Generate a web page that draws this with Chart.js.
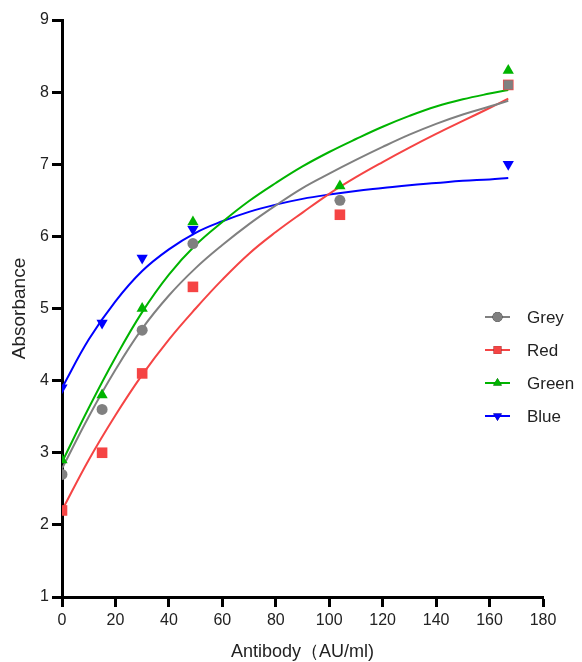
<!DOCTYPE html>
<html>
<head>
<meta charset="utf-8">
<script src="https://cdn.jsdelivr.net/npm/chart.js@4"></script>
<style>
  html, body { margin: 0; padding: 0; background: #fff; }
  #wrap { width: 582px; height: 662px; }
</style>
</head>
<body>
<div id="wrap"><canvas id="chart" width="582" height="662"></canvas></div>
<script>
// measured points
const doses = [0, 15, 30, 49, 104, 167];
const greyPts = [2.7, 3.6, 4.7, 5.9, 6.5, 8.1];
const redPts = [2.2, 3.0, 4.1, 5.3, 6.3, 8.1];
const greenPts = [2.9, 3.8, 5.0, 6.2, 6.7, 8.3];
const blueDoses = [0, 15, 30, 49, 167];
const bluePts = [3.9, 4.8, 5.7, 6.1, 7.0];

// fitted curves
const curveX = [0, 10, 20, 30, 40, 50, 60, 70, 80, 90, 100, 110, 120, 130, 140, 150, 160, 167];
const greyCurve = [2.78, 3.5, 4.15, 4.72, 5.18, 5.56, 5.88, 6.17, 6.43, 6.67, 6.87, 7.06, 7.24, 7.41, 7.56, 7.69, 7.8, 7.88];
const redCurve = [2.2, 2.9, 3.52, 4.08, 4.57, 5.0, 5.4, 5.76, 6.06, 6.33, 6.59, 6.82, 7.03, 7.23, 7.42, 7.6, 7.78, 7.91];
const greenCurve = [2.87, 3.62, 4.32, 4.95, 5.47, 5.88, 6.2, 6.49, 6.74, 6.97, 7.17, 7.35, 7.52, 7.67, 7.8, 7.9, 7.98, 8.03];
const blueCurve = [3.9, 4.57, 5.1, 5.52, 5.82, 6.05, 6.21, 6.34, 6.44, 6.52, 6.58, 6.63, 6.67, 6.71, 6.74, 6.77, 6.79, 6.81];

const xTicks = [0, 20, 40, 60, 80, 100, 120, 140, 160, 180];
const yTicks = [1, 2, 3, 4, 5, 6, 7, 8, 9];

const series = [
  { name: "Grey", color: "#808080", style: "circle", rotation: 0, radius: 5.5, xs: doses, pts: greyPts, curve: greyCurve },
  { name: "Red", color: "#f54444", style: "rect", rotation: 0, radius: 7.5, xs: doses, pts: redPts, curve: redCurve },
  { name: "Green", color: "#00b400", style: "triangle", rotation: 0, radius: 6.5, xs: doses, pts: greenPts, curve: greenCurve },
  { name: "Blue", color: "#0000ff", style: "triangle", rotation: 180, radius: 6.5, xs: blueDoses, pts: bluePts, curve: blueCurve },
];

const toXY = (xs, ys) => xs.map((x, i) => ({ x: x, y: ys[i] }));

const datasets = [];
series.forEach((s) => {
  const pointStyles = s.xs.map(() => s.style);
  const radii = s.xs.map(() => s.radius);
  if (s.name === "Grey") {
    // last grey marker sits on the red square and shows as a square
    pointStyles[pointStyles.length - 1] = "rect";
    radii[radii.length - 1] = 6.5;
  }
  datasets.push({
    label: s.name,
    data: toXY(s.xs, s.pts),
    showLine: false,
    pointStyle: pointStyles,
    rotation: s.rotation,
    pointRadius: radii,
    pointBackgroundColor: s.color,
    pointBorderColor: s.color,
    pointBorderWidth: 0,
  });
});
series.forEach((s) => {
  datasets.push({
    label: s.name + " fit",
    data: toXY(curveX, s.curve),
    showLine: true,
    borderColor: s.color,
    borderWidth: 2,
    pointRadius: 0,
    tension: 0.4,
    fill: false,
  });
});

const FONT = "'Liberation Sans', Arial, sans-serif";

const legendPlugin = {
  id: "insideLegend",
  afterDraw(chart) {
    const ctx = chart.ctx;
    const area = chart.chartArea;
    const x0 = area.right - 58;
    let y = area.top + 297;
    ctx.save();
    series.forEach((s) => {
      ctx.strokeStyle = s.color;
      ctx.lineWidth = 2;
      ctx.beginPath();
      ctx.moveTo(x0, y);
      ctx.lineTo(x0 + 25, y);
      ctx.stroke();
      Chart.helpers.drawPoint(ctx, {
        pointStyle: s.style,
        rotation: s.rotation,
        radius: s.style === "rect" ? 5.5 : 5,
        borderWidth: 0,
      }, x0 + 12.5, y);
      ctx.fillStyle = s.color;
      ctx.fill();
      ctx.fillStyle = "#222";
      ctx.font = "17px " + FONT;
      ctx.textBaseline = "middle";
      ctx.textAlign = "left";
      ctx.fillText(s.name, x0 + 42, y + 1);
      y += 33;
    });
    ctx.restore();
  },
};

const ctx = document.getElementById("chart").getContext("2d");
new Chart(ctx, {
  type: "scatter",
  data: { datasets: datasets },
  options: {
    responsive: false,
    animation: false,
    layout: { padding: { top: 20, right: 39, left: 0, bottom: 0 } },
    plugins: {
      legend: { display: false },
      tooltip: { enabled: false },
    },
    scales: {
      x: {
        type: "linear",
        min: 0,
        max: 180,
        afterBuildTicks: (axis) => { axis.ticks = xTicks.map((v) => ({ value: v })); },
        afterFit: (axis) => { axis.height = 65; },
        border: { display: true, color: "#000", width: 3 },
        grid: { drawOnChartArea: false, drawTicks: true, tickLength: 10, tickWidth: 3, tickColor: "#000" },
        ticks: { color: "#222", font: { family: FONT, size: 16 }, padding: 4, maxRotation: 0 },
        title: { display: true, text: "Antibody（AU/ml)", color: "#222", font: { family: FONT, size: 18 }, padding: { top: 10, bottom: -1 } },
      },
      y: {
        type: "linear",
        min: 1,
        max: 9,
        afterBuildTicks: (axis) => { axis.ticks = yTicks.map((v) => ({ value: v })); },
        afterFit: (axis) => { axis.width = 62; },
        border: { display: true, color: "#000", width: 3 },
        grid: { drawOnChartArea: false, drawTicks: true, tickLength: 10, tickWidth: 3, tickColor: "#000" },
        ticks: { color: "#222", font: { family: FONT, size: 16 }, padding: 3 },
        title: { display: true, text: "Absorbance", color: "#222", font: { family: FONT, size: 19 }, padding: { top: 8, bottom: 0 } },
      },
    },
  },
  plugins: [legendPlugin],
});
</script>
</body>
</html>
